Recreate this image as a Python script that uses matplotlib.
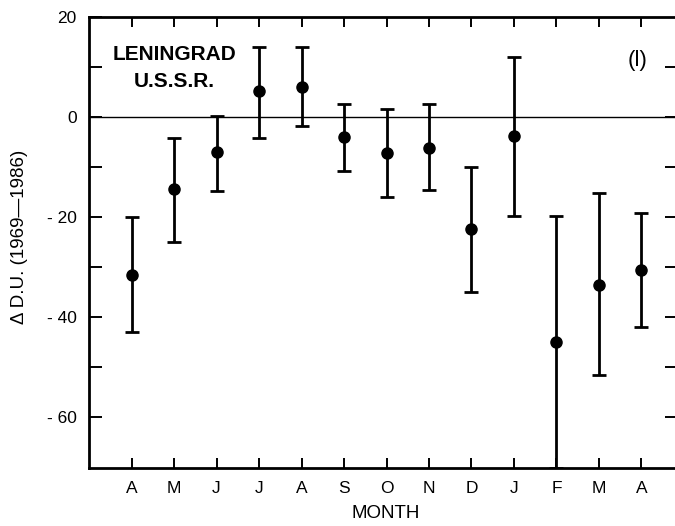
import numpy as np
import matplotlib.pyplot as plt

plt.rcParams['font.family'] = ['Liberation Sans', 'DejaVu Sans']

months = ['A', 'M', 'J', 'J', 'A', 'S', 'O', 'N', 'D', 'J', 'F', 'M', 'A']
delta_du = [-31.5, -14.5, -7.0, 5.2, 6.0, -4.0, -7.2, -6.2, -22.5, -3.8, -45.0, -33.5, -30.5]
err_low = [11.5, 10.5, 7.8, 9.4, 7.8, 6.8, 8.8, 8.4, 12.4, 16.0, 25.2, 18.0, 11.5]
err_high = [11.5, 10.3, 7.2, 8.8, 8.0, 6.6, 8.8, 8.8, 12.4, 15.8, 25.2, 18.2, 11.2]

fig = plt.figure(figsize=(6.75, 5.26), dpi=100)
ax = fig.add_axes([0.132, 0.110, 0.868, 0.858])

x = np.arange(1, len(months) + 1)
ax.errorbar(x, delta_du, yerr=[err_low, err_high], fmt='o', color='black',
            ms=8, elinewidth=2.0, capsize=5, capthick=2.0)
ax.axhline(0, color='black', lw=1.0)

ax.set_xlim(0, 13.79)
ax.set_ylim(-70.2, 20)
ax.set_xticks(x)
ax.set_xticklabels(months, fontsize=12.5)
ax.set_yticks([20, 0, -20, -40, -60])
ax.set_yticklabels(['20', '0', '- 20', '- 40', '- 60'], fontsize=12.5)
ax.set_yticks([10, -10, -30, -50], minor=True)

ax.tick_params(axis='x', which='both', direction='in', length=7, width=1.4,
               top=True, bottom=True, pad=9)
ax.tick_params(axis='y', which='both', direction='in', length=9, width=1.4,
               left=True, right=False, pad=9)
for s in ['left', 'bottom', 'top']:
    ax.spines[s].set_linewidth(2.0)
ax.spines['right'].set_visible(False)

# right-side ticks every 10
ax2 = ax.twinx()
ax2.set_ylim(ax.get_ylim())
ax2.set_yticks([10, 0, -10, -20, -30, -40, -50, -60])
ax2.set_yticklabels([])
ax2.tick_params(axis='y', direction='in', length=7, width=1.4)
for s in ax2.spines.values():
    s.set_visible(False)

ax.set_xlabel('MONTH', fontsize=13.5)
ax.xaxis.set_label_coords(0.507, -0.082)
ax.set_ylabel('\u0394 D.U. (1969\u20141986)', fontsize=13.5)
ax.yaxis.set_label_coords(-0.104, 0.512)

ax.text(2.0, 9.8, 'LENINGRAD\nU.S.S.R.', fontsize=15, fontweight='bold',
        ha='center', va='center', linespacing=1.5)
ax.text(12.9, 11.2, '(l)', fontsize=16, ha='center', va='center')

fig.savefig('out.png', dpi=100)
